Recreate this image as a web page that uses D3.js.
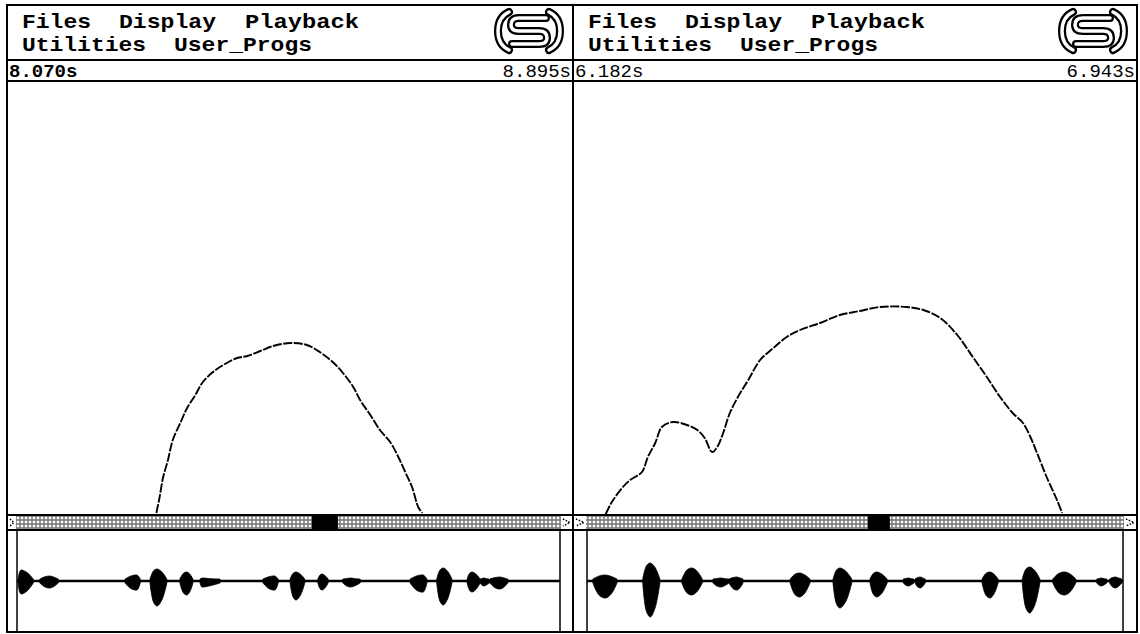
<!DOCTYPE html>
<html><head><meta charset="utf-8">
<script src="https://cdn.jsdelivr.net/npm/d3@7/dist/d3.min.js"></script>
<style>
html,body{margin:0;padding:0;background:#fff;}
svg{display:block;}
text{font-family:"Liberation Mono","DejaVu Sans Mono",monospace;fill:#000;}
</style></head>
<body>
<script>
(function(){
// ---------- data ----------
const menuRow1 = ["Files", "Display", "Playback"];
const menuRow2 = ["Utilities", "User_Progs"];
const timeLabels = [["8.070s", "8.895s"], ["6.182s", "6.943s"]];
const timeDomains = [[8.070, 8.895], [6.182, 6.943]];

// pitch contour (s, Hz-like units)
const leftTimes = [8.287,8.291,8.297,8.304,8.311,8.322,8.332,8.344,8.354,8.368,8.385,8.405,8.420,8.439,8.458,8.483,8.507,8.526,8.545,8.560,8.575,8.585,8.600,8.614,8.629,8.641,8.651,8.661,8.670,8.676];
const leftPitch = [50.5,57,68.5,77,87,95.5,103,109.5,115.5,120.5,124.5,128,129,131.5,134,135.5,134.5,131,126,120.5,113.5,107,99.5,92,86,78.5,71,63.5,53.5,50.5];
const rightTimes = [6.225,6.231,6.235,6.247,6.258,6.274,6.282,6.292,6.301,6.316,6.335,6.349,6.359,6.369,6.376,6.384,6.393,6.404,6.418,6.434,6.452,6.470,6.488,6.515,6.542,6.569,6.596,6.633,6.655,6.678,6.701,6.722,6.741,6.759,6.776,6.790,6.800,6.809,6.822,6.836,6.843];
const rightPitch = [50,54.5,57,63,67,71,78.5,85.5,93.5,96,94.5,92,88,81,83.5,90.5,100.5,108.5,117,127,133,138.5,142,145.5,149.5,151.5,153.5,153.5,152,148,139.5,128.5,118.5,108.5,100.5,95.5,88.5,80.5,68.5,57,50.5];
const pitchDomain = [50, 266];

// waveform overview bursts: [start %, peak %, end %, top amp, bottom amp]
const leftBursts = [
  [0.2,0.8,3.0,0.22,-0.26],[4.2,6.1,7.6,0.10,-0.14],[19.9,22.1,22.7,0.12,-0.18],
  [24.5,25.8,27.6,0.24,-0.50],[30.0,31.3,32.4,0.18,-0.28],[33.7,34.1,37.4,0.06,-0.12],
  [45.3,47.5,48.1,0.10,-0.18],[50.3,51.4,53.0,0.18,-0.38],[55.4,56.2,57.3,0.14,-0.18],
  [60.0,61.5,63.2,0.06,-0.12],[72.4,74.8,75.5,0.12,-0.22],[77.3,78.5,80.1,0.26,-0.48],
  [82.9,83.8,85.3,0.18,-0.22],[85.3,86.0,87.0,0.06,-0.10],[87.1,89.0,90.4,0.08,-0.16]
];
const rightBursts = [
  [1.1,3.5,5.6,0.12,-0.34],[10.4,11.8,13.6,0.36,-0.72],[17.7,19.6,21.5,0.26,-0.28],
  [23.5,25.0,26.5,0.06,-0.12],[26.5,28.0,29.1,0.08,-0.18],[37.9,39.7,41.6,0.16,-0.32],
  [45.9,47.2,49.4,0.26,-0.54],[52.8,54.1,56.0,0.18,-0.32],[59.0,60.0,61.0,0.06,-0.10],
  [61.2,62.2,63.1,0.08,-0.14],[73.7,75.2,76.7,0.18,-0.34],[81.2,82.6,84.5,0.28,-0.64],
  [86.9,89.2,91.2,0.18,-0.28],[95.1,96.0,97.0,0.06,-0.10],[97.5,98.6,99.8,0.08,-0.14]
];
// visible window within the file (% of scrollbar)
const scrollViews = [[54.3, 59.1], [52.4, 56.5]];

// ---------- layout ----------
const W = 1140, H = 634;
const svg = d3.select("body").append("svg").attr("width", W).attr("height", H);
const defs = svg.append("defs");
const pat = defs.append("pattern").attr("id","dots").attr("patternUnits","userSpaceOnUse")
  .attr("width",4).attr("height",4);
pat.append("rect").attr("width",4).attr("height",4).attr("fill","#000");
pat.append("circle").attr("cx",2).attr("cy",2).attr("r",1.35).attr("fill","#fff");

const topY = 5, bottomY = 632, menuLine = 60, timeLine = 81, scrollTop = 515, scrollBot = 530;
// word placement (offset from panel left, stretched width)
const row1Pos = [[15, 69], [112, 97], [238, 114]];
const row2Pos = [[15, 124], [167, 138]];
const panels = [
  {x0: 7, x1: 573, cx0: 8, cx1: 572, wx0: 17, wx1: 560,
   times: leftTimes, pitch: leftPitch, bursts: leftBursts},
  {x0: 573, x1: 1137, cx0: 574, cx1: 1136, wx0: 587, wx1: 1123,
   times: rightTimes, pitch: rightPitch, bursts: rightBursts}
];

const y = d3.scaleLinear().domain(pitchDomain).range([514, 82]);
const amp = d3.scaleLinear().domain([-1, 1]).range([631, 531]);

function drawLogo(g) {
  const paths = [
    "M16 5 Q5 10 5 24 Q5 38 16 43",
    "M56 5 Q67 10 67 24 Q67 38 56 43",
    "M53 11 H26 Q18 11 18 18 Q18 24 26 24 H46 Q54 24 54 31 Q54 37 46 37 H19"
  ];
  paths.forEach(d => {
    g.append("path").attr("d", d).attr("fill","none").attr("stroke","#000")
      .attr("stroke-width",8).attr("stroke-linecap","round").attr("stroke-linejoin","round");
    g.append("path").attr("d", d).attr("fill","none").attr("stroke","#fff")
      .attr("stroke-width",3.5).attr("stroke-linecap","round").attr("stroke-linejoin","round");
  });
}

function word(g, txt, x, yy, w, size) {
  g.append("text").attr("x", x).attr("y", yy).attr("font-size", size).attr("font-weight","bold")
    .attr("textLength", w).attr("lengthAdjust","spacingAndGlyphs").text(txt);
}

panels.forEach((p, i) => {
  const g = svg.append("g");
  // menu text
  menuRow1.forEach((t, k) => word(g, t, p.x0 + row1Pos[k][0], 28, row1Pos[k][1], 21));
  menuRow2.forEach((t, k) => word(g, t, p.x0 + row2Pos[k][0], 51, row2Pos[k][1], 21));
  drawLogo(g.append("g").attr("transform", `translate(${p.x1 - 80},${topY + 2})`));
  // time labels
  g.append("text").attr("x", p.x0 + 2).attr("y", 77).attr("font-size", 19)
    .attr("font-weight", i === 0 ? "bold" : "normal").text(timeLabels[i][0]);
  g.append("text").attr("x", p.x1 - 2).attr("y", 77).attr("font-size", 19)
    .attr("text-anchor","end").text(timeLabels[i][1]);

  // pitch contour
  const x = d3.scaleLinear().domain(timeDomains[i]).range([p.cx0, p.cx1]);
  const line = d3.line().x((d, k) => x(p.times[k])).y(d => y(d)).curve(d3.curveCatmullRom);
  g.append("path").attr("d", line(p.pitch)).attr("fill","none").attr("stroke","#000")
    .attr("stroke-width", 1.9).attr("stroke-dasharray","9 1.5");

  // scrollbar
  g.append("rect").attr("x", p.x0).attr("y", scrollTop).attr("width", p.x1 - p.x0)
    .attr("height", scrollBot - scrollTop).attr("fill","url(#dots)").attr("opacity",0.5);
  const sx = d3.scaleLinear().domain([0, 100]).range([p.wx0, p.wx1]);
  g.append("rect").attr("x", sx(scrollViews[i][0])).attr("y", scrollTop + 1)
    .attr("width", sx(scrollViews[i][1]) - sx(scrollViews[i][0])).attr("height", scrollBot - scrollTop - 2)
    .attr("fill","#000");
  [[p.x0, p.wx0], [p.wx1, p.x1]].forEach(([a, b]) => {
    g.append("rect").attr("x", a + 1).attr("y", scrollTop + 1).attr("width", b - a - 2)
      .attr("height", scrollBot - scrollTop - 2).attr("fill","#fff");
    g.append("path").attr("d", `M${a+3} ${scrollTop+4} L${b-3} ${scrollTop+7.5} L${a+3} ${scrollBot-4}`)
      .attr("fill","none").attr("stroke","#000").attr("stroke-width",1.5).attr("stroke-dasharray","1.5 1.5");
  });
  g.append("line").attr("x1", p.x0).attr("x2", p.x1).attr("y1", scrollTop).attr("y2", scrollTop)
    .attr("stroke","#000").attr("stroke-width",2);
  g.append("line").attr("x1", p.x0).attr("x2", p.x1).attr("y1", scrollBot).attr("y2", scrollBot)
    .attr("stroke","#000").attr("stroke-width",2);

  // waveform box edges
  [p.wx0, p.wx1].forEach(xx => g.append("line").attr("x1", xx).attr("x2", xx)
    .attr("y1", scrollBot).attr("y2", bottomY).attr("stroke","#000").attr("stroke-width",1.5));

  // waveform
  g.append("line").attr("x1", sx(0)).attr("x2", sx(100)).attr("y1", amp(0)).attr("y2", amp(0))
    .attr("stroke","#000").attr("stroke-width",2.5);
  const area = d3.area().x(d => sx(d[0])).y0(d => amp(d[2])).y1(d => amp(d[1]))
    .curve(d3.curveCatmullRom);
  p.bursts.forEach(([s, pk, e, t, b]) => {
    const pts = [
      [s, 0.04, -0.04],
      [s + (pk - s) * 0.5, t * 0.85, b * 0.85],
      [pk, t, b],
      [pk + (e - pk) * 0.5, t * 0.75, b * 0.75],
      [e, 0.04, -0.04]
    ];
    g.append("path").attr("d", area(pts)).attr("fill","#000").attr("stroke","#000").attr("stroke-width",0.8);
  });
});

// frame lines
const frame = svg.append("g").attr("stroke","#000").attr("fill","none").attr("stroke-width",2);
frame.append("rect").attr("x", 7).attr("y", topY).attr("width", 1130).attr("height", bottomY - topY);
frame.append("line").attr("x1", 7).attr("x2", 1137).attr("y1", menuLine).attr("y2", menuLine);
frame.append("line").attr("x1", 7).attr("x2", 1137).attr("y1", timeLine).attr("y2", timeLine);
frame.append("line").attr("x1", 573).attr("x2", 573).attr("y1", topY).attr("y2", bottomY);
})();
</script>
</body></html>
